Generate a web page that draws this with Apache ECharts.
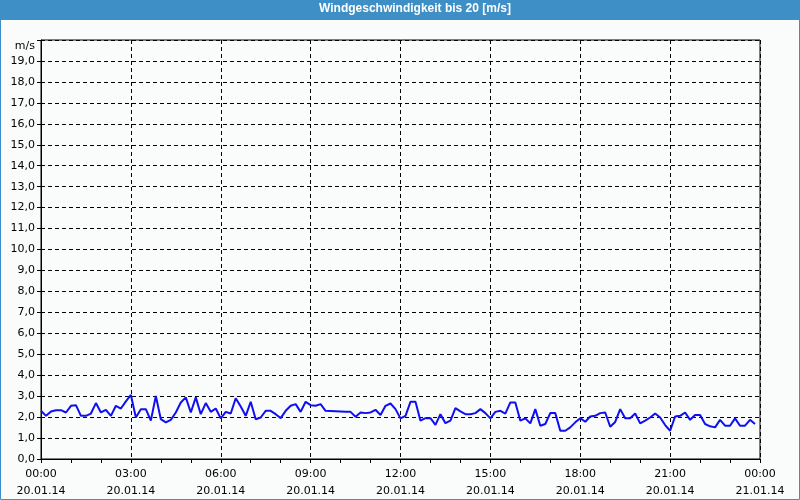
<!DOCTYPE html>
<html>
<head>
<meta charset="utf-8">
<script src="https://cdn.jsdelivr.net/npm/echarts@6/dist/echarts.min.js"></script>
<style>
html,body{margin:0;padding:0;background:#fafcfc;}
#c{width:800px;height:500px;}
</style>
</head>
<body>
<div id="c"></div>
<script>
// Time in minutes since 20.01.14 00:00, 10-minute steps
const stepMinutes = 10;
const windSpeed = [
2.30,2.06,2.27,2.33,2.33,2.22,2.54,2.57,2.06,2.06,2.17,2.67,2.22,2.35,2.06,2.54,2.41,2.75,3.06,1.98,
2.38,2.38,1.83,3.01,1.90,1.75,1.87,2.22,2.70,2.94,2.22,2.94,2.14,2.67,2.25,2.41,1.94,2.25,2.17,2.90,
2.51,2.06,2.73,1.90,1.98,2.30,2.30,2.14,1.95,2.30,2.54,2.62,2.25,2.73,2.57,2.54,2.62,2.30,2.29,2.28,
2.27,2.26,2.25,2.02,2.22,2.19,2.22,2.35,2.10,2.54,2.65,2.38,1.94,2.06,2.73,2.73,1.83,1.95,1.95,1.63,
2.14,1.71,1.83,2.43,2.27,2.14,2.14,2.19,2.38,2.19,1.94,2.25,2.30,2.17,2.70,2.70,1.83,1.94,1.70,2.38,
1.59,1.67,2.19,2.19,1.35,1.35,1.51,1.75,1.95,1.78,2.03,2.06,2.19,2.22,1.54,1.77,2.38,1.95,1.95,2.17,
1.70,1.83,1.98,2.17,1.98,1.62,1.35,2.03,2.06,2.22,1.87,2.10,2.10,1.67,1.56,1.51,1.87,1.59,1.59,1.94,
1.59,1.59,1.87,1.67
];
const xTickLabels = [
  "00:00\n20.01.14","03:00\n20.01.14","06:00\n20.01.14","09:00\n20.01.14","12:00\n20.01.14",
  "15:00\n20.01.14","18:00\n20.01.14","21:00\n20.01.14","00:00\n21.01.14"
];
const yUnitLabel = "m/s";
const titleText = "Windgeschwindigkeit bis 20 [m/s]";

const seriesData = windSpeed.map((v, i) => [i * stepMinutes, v]);

const chart = echarts.init(document.getElementById('c'), null, {renderer: 'canvas'});
const font = 'DejaVu Sans';
chart.setOption({
  backgroundColor: '#fafcfc',
  animation: false,
  graphic: [
    {type: 'rect', shape: {x: 0, y: 0, width: 800, height: 20}, style: {fill: '#3d8fc6'}, z: 0},
    {type: 'rect', shape: {x: 0.5, y: 0.5, width: 799, height: 499}, style: {fill: null, stroke: '#3d8fc6', lineWidth: 1}, z: 0},
    {type: 'text', left: 319, top: 3, style: {text: titleText, fill: '#ffffff', font: 'bold 12px "Liberation Sans"'}, z: 10}
  ],
  grid: {left: 41, right: 40, top: 40, bottom: 40, show: true, borderColor: '#000', borderWidth: 1, backgroundColor: 'transparent'},
  xAxis: {
    type: 'value', min: 0, max: 1440, interval: 180,
    axisLine: {show: true, lineStyle: {color: '#000', width: 1}},
    axisTick: {show: true, length: 4, lineStyle: {color: '#000'}},
    minorTick: {show: true, splitNumber: 3, length: 4, lineStyle: {color: '#000'}},
    splitLine: {show: true, lineStyle: {color: '#000', type: [4, 3], width: 1}},
    axisLabel: {
      color: '#000', fontFamily: font, fontSize: 11, lineHeight: 17, margin: 7,
      formatter: v => xTickLabels[Math.round(v / 180)] || ''
    }
  },
  yAxis: {
    type: 'value', min: 0, max: 20, interval: 1,
    axisLine: {show: true, lineStyle: {color: '#000', width: 1}},
    axisTick: {show: true, length: 4, lineStyle: {color: '#000'}},
    splitLine: {show: true, lineStyle: {color: '#000', type: [4, 3], width: 1}},
    axisLabel: {
      color: '#000', fontFamily: font, fontSize: 11, margin: 6,
      formatter: v => v === 20 ? '{u|' + yUnitLabel + '}' : v.toFixed(1).replace('.', ','),
      rich: {u: {fontFamily: font, fontSize: 11, color: '#000', padding: [12, 0, 0, 0]}}
    }
  },
  series: [{
    type: 'line', data: seriesData, showSymbol: false, symbol: 'none',
    lineStyle: {color: '#0f0fef', width: 2}, z: 5
  }]
});
</script>
</body>
</html>
